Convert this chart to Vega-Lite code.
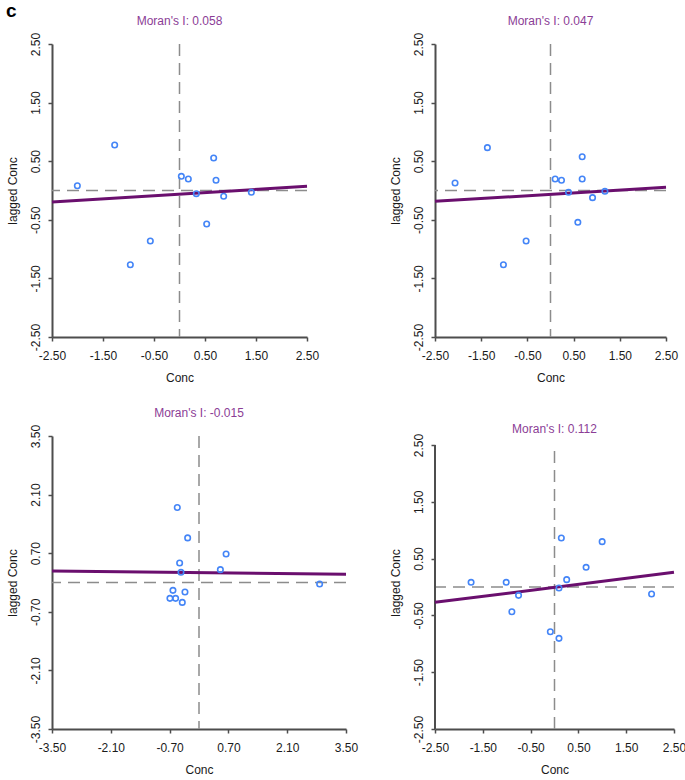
{
  "$schema": "https://vega.github.io/schema/vega-lite/v6.json",
  "padding": {"left": 5, "top": 2, "right": 5, "bottom": 5},
  "background": "white",
  "title": {"text": "c", "anchor": "start", "frame": "bounds", "fontSize": 19, "fontWeight": "bold", "font": "Liberation Sans", "color": "#000000", "offset": 0, "dy": 6},
  "datasets": {
    "p1": [
      {"conc": -2.003, "lag": 0.08}, {"conc": -1.271, "lag": 0.776}, {"conc": -0.964, "lag": -1.266},
      {"conc": -0.572, "lag": -0.862}, {"conc": 0.036, "lag": 0.242}, {"conc": 0.173, "lag": 0.196},
      {"conc": 0.33, "lag": -0.054}, {"conc": 0.67, "lag": 0.555}, {"conc": 0.716, "lag": 0.174},
      {"conc": 0.533, "lag": -0.572}, {"conc": 0.866, "lag": -0.099}, {"conc": 1.409, "lag": -0.031}
    ],
    "p2": [
      {"conc": -2.066, "lag": 0.128}, {"conc": -1.366, "lag": 0.731}, {"conc": -1.019, "lag": -1.266},
      {"conc": -0.528, "lag": -0.862}, {"conc": 0.101, "lag": 0.196}, {"conc": 0.238, "lag": 0.174},
      {"conc": 0.39, "lag": -0.031}, {"conc": 0.686, "lag": 0.577}, {"conc": 0.686, "lag": 0.196},
      {"conc": 0.592, "lag": -0.543}, {"conc": 0.91, "lag": -0.122}, {"conc": 1.178, "lag": -0.014}
    ],
    "p3": [
      {"conc": -0.517, "lag": 1.792}, {"conc": -0.27, "lag": 1.066}, {"conc": -0.461, "lag": 0.467},
      {"conc": -0.429, "lag": 0.243}, {"conc": -0.62, "lag": -0.188}, {"conc": -0.334, "lag": -0.228},
      {"conc": -0.692, "lag": -0.379}, {"conc": -0.557, "lag": -0.379}, {"conc": -0.398, "lag": -0.475},
      {"conc": 0.509, "lag": 0.307}, {"conc": 0.645, "lag": 0.682}, {"conc": 2.872, "lag": -0.036}
    ],
    "p4": [
      {"conc": -1.745, "lag": 0.082}, {"conc": -1.01, "lag": 0.082}, {"conc": -0.892, "lag": -0.435},
      {"conc": -0.752, "lag": -0.147}, {"conc": -0.087, "lag": -0.787}, {"conc": 0.094, "lag": -0.904},
      {"conc": 0.094, "lag": -0.018}, {"conc": 0.143, "lag": 0.863}, {"conc": 0.255, "lag": 0.129},
      {"conc": 0.661, "lag": 0.346}, {"conc": 0.997, "lag": 0.798}, {"conc": 2.031, "lag": -0.123}
    ],
    "fit1": [{"conc": -2.5, "lag": -0.196}, {"conc": 2.5, "lag": 0.071}],
    "fit2": [{"conc": -2.5, "lag": -0.185}, {"conc": 2.5, "lag": 0.054}],
    "fit3": [{"conc": -3.5, "lag": 0.275}, {"conc": 3.5, "lag": 0.195}],
    "fit4": [{"conc": -2.5, "lag": -0.27}, {"conc": 2.5, "lag": 0.258}],
    "one": [{}]
  },
  "vconcat": [
    {
      "hconcat": [
        {
          "width": 255, "height": 293,
          "title": {"text": "Moran's I: 0.058"},
          "layer": [
            {"data": {"name": "one"}, "mark": {"type": "rule", "color": "#8c8c8c", "strokeWidth": 1.5, "strokeDash": [12, 7]}, "encoding": {"x": {"datum": 0}}},
            {"data": {"name": "one"}, "mark": {"type": "rule", "color": "#8c8c8c", "strokeWidth": 1.5, "strokeDash": [12, 7]}, "encoding": {"y": {"datum": 0}}},
            {"data": {"name": "fit1"}, "mark": {"type": "line", "color": "#6a0f6e", "strokeWidth": 3}, "encoding": {"x": {"field": "conc", "type": "quantitative"}, "y": {"field": "lag", "type": "quantitative"}}},
            {"data": {"name": "p1"}, "mark": {"type": "point", "filled": false, "color": "#4485f7", "size": 30, "strokeWidth": 1.6, "opacity": 1},
             "encoding": {
               "x": {"field": "conc", "type": "quantitative", "scale": {"domain": [-2.5, 2.5], "nice": false, "zero": false}, "axis": {"values": [-2.5, -1.5, -0.5, 0.5, 1.5, 2.5], "format": ".2f", "title": "Conc"}},
               "y": {"field": "lag", "type": "quantitative", "scale": {"domain": [-2.5, 2.5], "nice": false, "zero": false}, "axis": {"values": [-2.5, -1.5, -0.5, 0.5, 1.5, 2.5], "format": ".2f", "title": "lagged Conc"}}
             }}
          ]
        },
        {
          "width": 231, "height": 293,
          "title": {"text": "Moran's I: 0.047"},
          "layer": [
            {"data": {"name": "one"}, "mark": {"type": "rule", "color": "#8c8c8c", "strokeWidth": 1.5, "strokeDash": [12, 7]}, "encoding": {"x": {"datum": 0}}},
            {"data": {"name": "one"}, "mark": {"type": "rule", "color": "#8c8c8c", "strokeWidth": 1.5, "strokeDash": [12, 7]}, "encoding": {"y": {"datum": 0}}},
            {"data": {"name": "fit2"}, "mark": {"type": "line", "color": "#6a0f6e", "strokeWidth": 3}, "encoding": {"x": {"field": "conc", "type": "quantitative"}, "y": {"field": "lag", "type": "quantitative"}}},
            {"data": {"name": "p2"}, "mark": {"type": "point", "filled": false, "color": "#4485f7", "size": 30, "strokeWidth": 1.6, "opacity": 1},
             "encoding": {
               "x": {"field": "conc", "type": "quantitative", "scale": {"domain": [-2.5, 2.5], "nice": false, "zero": false}, "axis": {"values": [-2.5, -1.5, -0.5, 0.5, 1.5, 2.5], "format": ".2f", "title": "Conc"}},
               "y": {"field": "lag", "type": "quantitative", "scale": {"domain": [-2.5, 2.5], "nice": false, "zero": false}, "axis": {"values": [-2.5, -1.5, -0.5, 0.5, 1.5, 2.5], "format": ".2f", "title": "lagged Conc"}}
             }}
          ]
        }
      ],
      "spacing": 128,
      "bounds": "flush"
    },
    {
      "hconcat": [
        {
          "width": 294, "height": 293,
          "title": {"text": "Moran's I: -0.015"},
          "layer": [
            {"data": {"name": "one"}, "mark": {"type": "rule", "color": "#8c8c8c", "strokeWidth": 1.5, "strokeDash": [12, 7]}, "encoding": {"x": {"datum": 0}}},
            {"data": {"name": "one"}, "mark": {"type": "rule", "color": "#8c8c8c", "strokeWidth": 1.5, "strokeDash": [12, 7]}, "encoding": {"y": {"datum": 0}}},
            {"data": {"name": "fit3"}, "mark": {"type": "line", "color": "#6a0f6e", "strokeWidth": 3}, "encoding": {"x": {"field": "conc", "type": "quantitative"}, "y": {"field": "lag", "type": "quantitative"}}},
            {"data": {"name": "p3"}, "mark": {"type": "point", "filled": false, "color": "#4485f7", "size": 30, "strokeWidth": 1.6, "opacity": 1},
             "encoding": {
               "x": {"field": "conc", "type": "quantitative", "scale": {"domain": [-3.5, 3.5], "nice": false, "zero": false}, "axis": {"values": [-3.5, -2.1, -0.7, 0.7, 2.1, 3.5], "format": ".2f", "title": "Conc"}},
               "y": {"field": "lag", "type": "quantitative", "scale": {"domain": [-3.5, 3.5], "nice": false, "zero": false}, "axis": {"values": [-3.5, -2.1, -0.7, 0.7, 2.1, 3.5], "format": ".2f", "title": "lagged Conc"}}
             }}
          ]
        },
        {
          "width": 239, "height": 293,
          "title": {"text": "Moran's I: 0.112", "offset": -3},
          "layer": [
            {"data": {"name": "one"}, "mark": {"type": "rule", "color": "#8c8c8c", "strokeWidth": 1.5, "strokeDash": [12, 7]}, "encoding": {"x": {"datum": 0}, "y": {"datum": -2.5}, "y2": {"datum": 2.5}}},
            {"data": {"name": "one"}, "mark": {"type": "rule", "color": "#8c8c8c", "strokeWidth": 1.5, "strokeDash": [12, 7]}, "encoding": {"y": {"datum": 0}}},
            {"data": {"name": "one"}, "mark": {"type": "rule", "color": "#4d4d4d", "strokeWidth": 2}, "encoding": {"x": {"datum": -2.5}, "y": {"datum": -2.5}, "y2": {"datum": 2.5}}},
            {"data": {"name": "fit4"}, "mark": {"type": "line", "color": "#6a0f6e", "strokeWidth": 3}, "encoding": {"x": {"field": "conc", "type": "quantitative"}, "y": {"field": "lag", "type": "quantitative"}}},
            {"data": {"name": "p4"}, "mark": {"type": "point", "filled": false, "color": "#4485f7", "size": 30, "strokeWidth": 1.6, "opacity": 1},
             "encoding": {
               "x": {"field": "conc", "type": "quantitative", "scale": {"domain": [-2.5, 2.5], "nice": false, "zero": false}, "axis": {"values": [-2.5, -1.5, -0.5, 0.5, 1.5, 2.5], "format": ".2f", "title": "Conc"}},
               "y": {"field": "lag", "type": "quantitative", "scale": {"domain": [-2.5, 2.658], "nice": false, "zero": false}, "axis": {"values": [-2.5, -1.5, -0.5, 0.5, 1.5, 2.5], "format": ".2f", "title": "lagged Conc", "domain": false}}
             }}
          ]
        }
      ],
      "spacing": 89,
      "bounds": "flush"
    }
  ],
  "spacing": 24,
  "config": {
    "locale": {"number": {"decimal": ".", "thousands": ",", "grouping": [3], "currency": ["$", ""], "minus": "-"}},
    "view": {"stroke": null},
    "title": {"font": "Liberation Sans", "fontSize": 12, "fontWeight": "normal", "color": "#8b3d96", "anchor": "middle", "frame": "group", "offset": 4},
    "axis": {
      "grid": false,
      "domainColor": "#4d4d4d", "domainWidth": 2,
      "tickColor": "#4d4d4d", "tickSize": 4, "tickWidth": 1.5,
      "labelFont": "Liberation Sans", "labelFontSize": 12, "labelColor": "#1a1a1a",
      "labelOverlap": false, "labelFlush": false, "labelBound": false,
      "titleFont": "Liberation Sans", "titleFontSize": 12, "titleFontWeight": "normal", "titleColor": "#1a1a1a"
    },
    "axisX": {"labelPadding": 9, "titlePadding": 11},
    "axisY": {"labelAngle": -90, "labelAlign": "center", "labelBaseline": "bottom", "labelPadding": 6, "titlePadding": 10}
  }
}
